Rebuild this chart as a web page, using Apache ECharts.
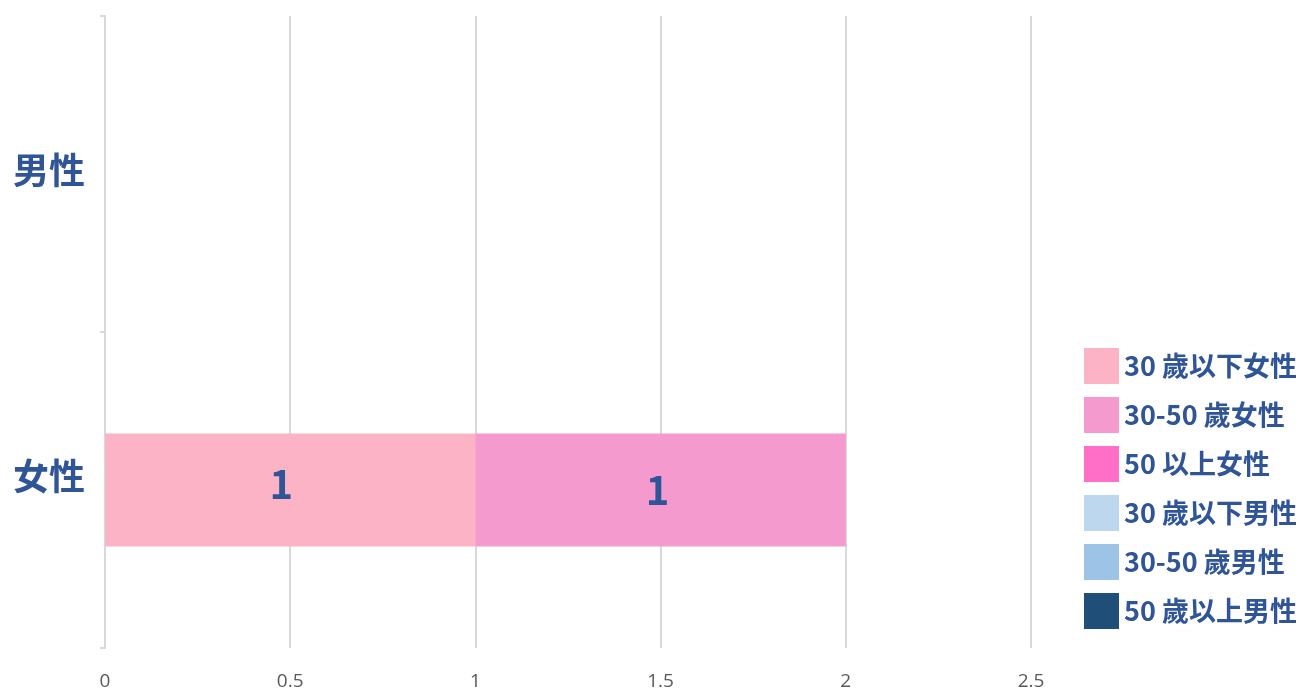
<!DOCTYPE html>
<html>
<head>
<meta charset="utf-8">
<script src="https://cdn.jsdelivr.net/npm/echarts@6/dist/echarts.min.js"></script>
<style>
html,body{margin:0;padding:0;background:#fff;}
#chart{width:1298px;height:691px;}
</style>
</head>
<body>
<div id="chart"></div>
<script>
const categories = ['女性', '男性'];
const xTicks = [0, 0.5, 1, 1.5, 2, 2.5];
const seriesNames = ['30 歲以下女性', '30-50 歲女性', '50 以上女性', '30 歲以下男性', '30-50 歲男性', '50 歲以上男性'];
const seriesColors = ['#FDB3C6', '#F49ACF', '#FF6EC7', '#BDD7EE', '#9DC3E6', '#1F4E79'];
const under30Female = [1, 0];
const f30to50Female = [1, 0];
const over50Female = [0, 0];
const under30Male = [0, 0];
const m30to50Male = [0, 0];
const over50Male = [0, 0];
const seriesValues = [under30Female, f30to50Female, over50Female, under30Male, m30to50Male, over50Male];

const textColor = '#2F5597';
const font = '"Noto Sans CJK TC", "Noto Sans", sans-serif';
const labelOffsets = [[-9, -6], [-3, 0], [0, 0], [0, 0], [0, 0], [0, 0]];

const chart = echarts.init(document.getElementById('chart'));
chart.setOption({
  animation: false,
  textStyle: { fontFamily: font },
  grid: { left: 105, top: 16, right: 1298 - 1031, bottom: 691 - 648, containLabel: false },
  legend: {
    orient: 'vertical',
    left: 1079,
    top: 343,
    itemWidth: 35,
    itemHeight: 36,
    itemGap: 13,
    icon: 'rect',
    data: seriesNames,
    textStyle: { color: textColor, fontSize: 27, fontWeight: 'bold', fontFamily: font }
  },
  xAxis: {
    type: 'value',
    min: 0,
    max: 2.5,
    interval: 0.5,
    axisLine: { show: false },
    axisTick: { show: false },
    splitLine: { show: true, lineStyle: { color: '#D9D9D9', width: 2 } },
    axisLabel: {
      color: '#595959', fontSize: 19, margin: 24, fontFamily: '"Open Sans", sans-serif',
      formatter: v => xTicks.includes(v) ? String(v) : ''
    }
  },
  yAxis: {
    type: 'category',
    data: categories,
    axisLine: { show: true, lineStyle: { color: '#D9D9D9', width: 2 } },
    axisTick: { show: true, length: 5, lineStyle: { color: '#D9D9D9', width: 2 } },
    axisLabel: {
      color: textColor, fontSize: 35, fontWeight: 'bold', margin: 20, fontFamily: font,
      formatter: v => v === '女性' ? '{f|' + v + '}' : '{m|' + v + '}',
      rich: {
        f: { color: textColor, fontSize: 36, fontWeight: 'bold', fontFamily: font, padding: [0, 0, 28, 0] },
        m: { color: textColor, fontSize: 36, fontWeight: 'bold', fontFamily: font, padding: [0, 0, 8, 0] }
      }
    }
  },
  series: seriesNames.map((name, i) => ({
    name,
    type: 'bar',
    stack: 'total',
    barWidth: 113,
    itemStyle: { color: seriesColors[i] },
    label: {
      show: true,
      position: 'inside',
      offset: labelOffsets[i],
      color: textColor,
      fontSize: 40,
      fontWeight: 'bold',
      fontFamily: font,
      formatter: p => p.value ? String(p.value) : ''
    },
    data: seriesValues[i]
  }))
});
</script>
</body>
</html>
